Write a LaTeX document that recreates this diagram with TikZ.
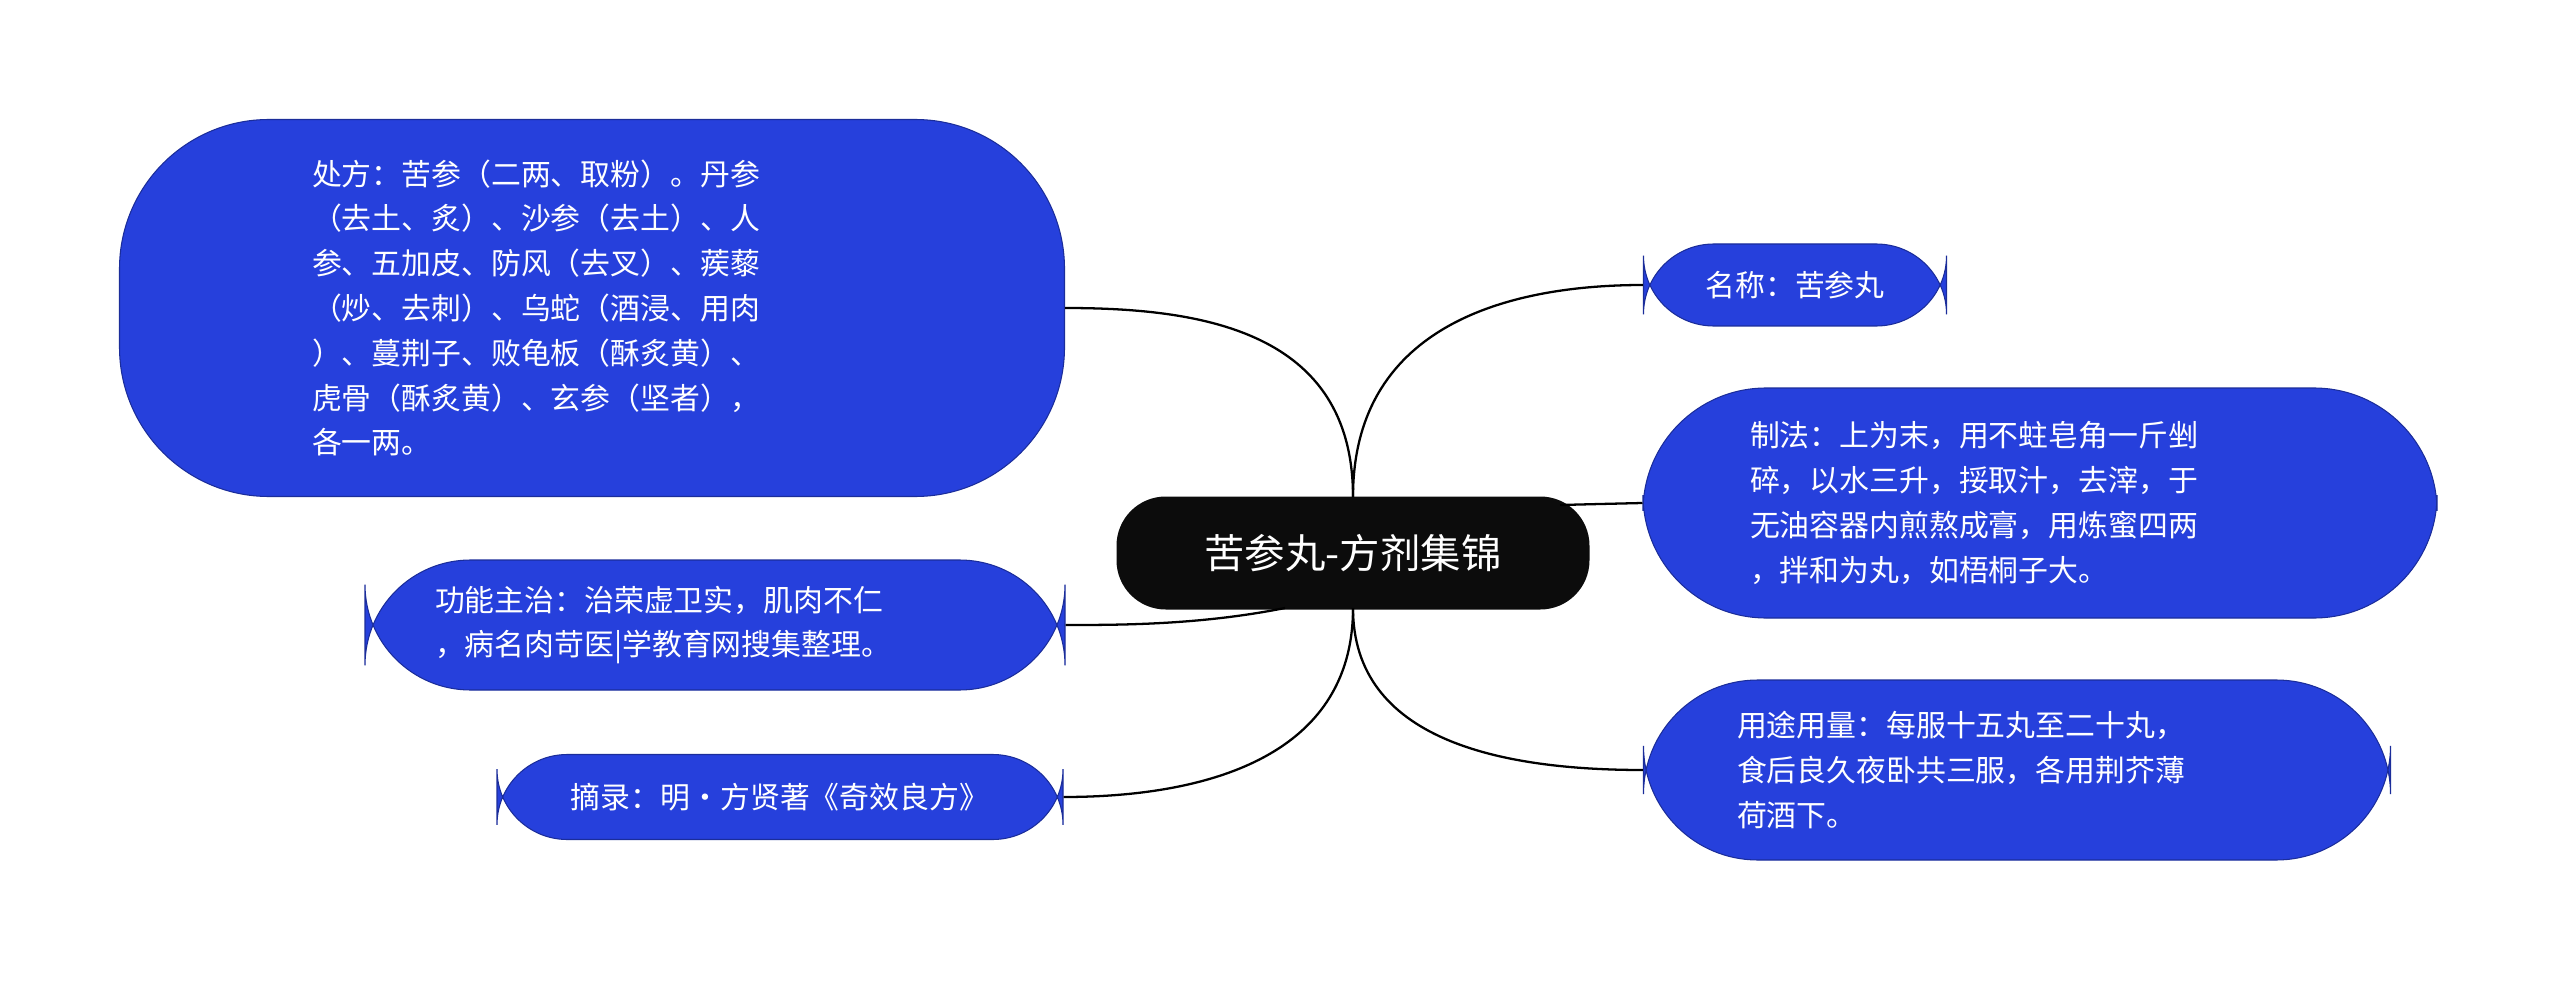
\documentclass[tikz,border=0pt]{standalone}
\usepackage{fontspec}
\setmainfont{Noto Sans CJK SC}
\definecolor{topicblue}{RGB}{38,64,220}
\definecolor{rootblack}{RGB}{12,12,12}
\tikzset{
  topic/.style={fill=topicblue, draw=topicblue!70!black, line width=0.6pt, rounded corners=60pt,
    text=white, font=\fontsize{17}{25.5}\selectfont, align=left, inner sep=0pt},
  root/.style={fill=rootblack, rounded corners=28pt, text=white,
    font=\fontsize{23}{28}\selectfont, inner sep=0pt},
  link/.style={draw=black, line width=1.3pt}
}
\begin{document}
\begin{tikzpicture}[x=0.02cm, y=-0.02cm]
  \useasboundingbox (0,0) rectangle (2560,983);
  % root
  \node[root, minimum width=473*0.02cm, minimum height=113*0.02cm] (center) at (1353,553) {苦参丸-方剂集锦};
  % left topics
  \node[topic, minimum width=945*0.02cm, minimum height=377*0.02cm, rounded corners=85pt, text width=560*0.02cm] (recipe) at (592,308)
    {处方：苦参（二两、取粉）。丹参\\（去土、炙）、沙参（去土）、人\\参、五加皮、防风（去叉）、蒺藜\\（炒、去刺）、乌蛇（酒浸、用肉\\）、蔓荆子、败龟板（酥炙黄）、\\虎骨（酥炙黄）、玄参（坚者），\\各一两。};
  \node[topic, minimum width=700*0.02cm, minimum height=130*0.02cm, text width=560*0.02cm] (effect) at (715,625)
    {功能主治：治荣虚卫实，肌肉不仁\\，病名肉苛医|学教育网搜集整理。};
  \node[topic, minimum width=566*0.02cm, minimum height=85*0.02cm, rounded corners=40pt, align=center] (source) at (780,797)
    {摘录：明·方贤著《奇效良方》};
  % right topics
  \node[topic, minimum width=303*0.02cm, minimum height=82*0.02cm, rounded corners=40pt, align=center] (name) at (1795,285)
    {名称：苦参丸};
  \node[topic, minimum width=794*0.02cm, minimum height=230*0.02cm, rounded corners=70pt, text width=580*0.02cm] (method) at (2040,503)
    {制法：上为末，用不蛀皂角一斤剉\\碎，以水三升，挼取汁，去滓，于\\无油容器内煎熬成膏，用炼蜜四两\\，拌和为丸，如梧桐子大。};
  \node[topic, minimum width=747*0.02cm, minimum height=180*0.02cm, rounded corners=65pt, text width=560*0.02cm] (usage) at (2017,770)
    {用途用量：每服十五丸至二十丸，\\食后良久夜卧共三服，各用荆芥薄\\荷酒下。};
  % connectors
  \draw[link] (1353,497) .. controls (1353,330) and (1200,308) .. (recipe.east);
  \draw[link] (1285,608) .. controls (1200,625) and (1120,625) .. (effect.east);
  \draw[link] (1353,608) .. controls (1353,760) and (1200,797) .. (source.east);
  \draw[link] (1353,497) .. controls (1353,330) and (1500,285) .. (name.west);
  \draw[link] (1560,505) .. controls (1600,504) .. (method.west);
  \draw[link] (1353,608) .. controls (1353,740) and (1500,770) .. (usage.west);
\end{tikzpicture}
\end{document}
